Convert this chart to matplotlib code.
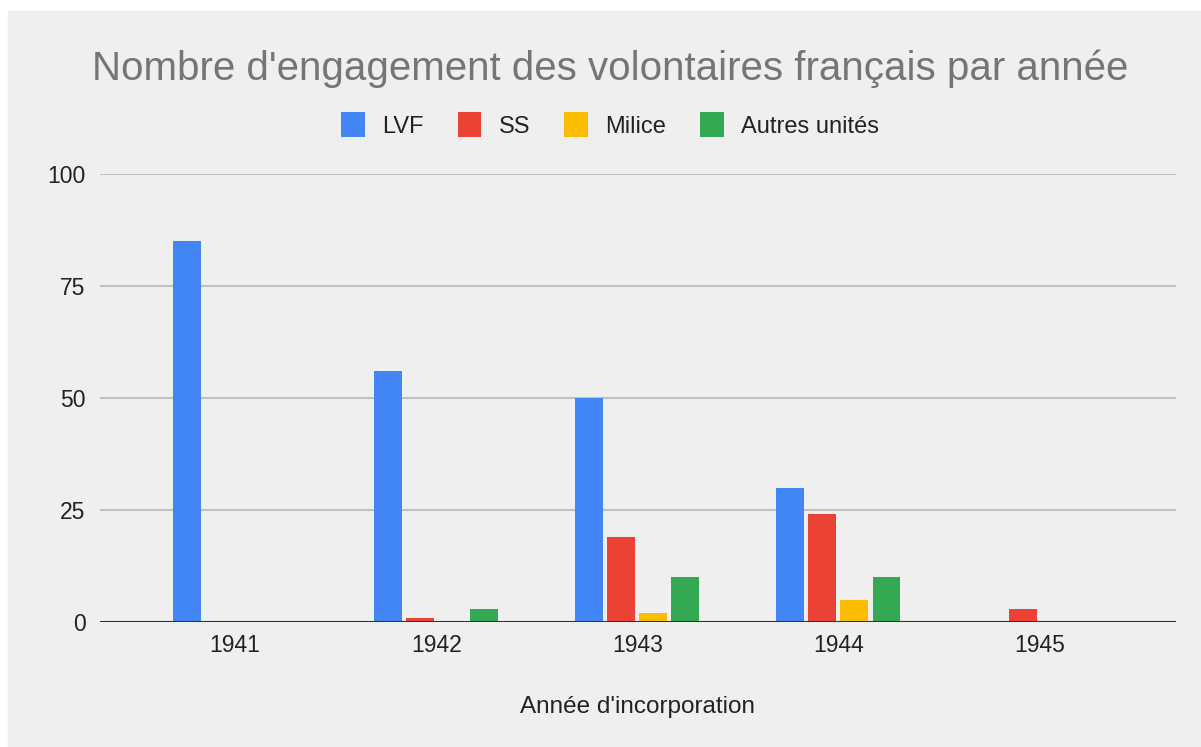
import matplotlib
matplotlib.use('Agg')
import matplotlib.pyplot as plt
from matplotlib.patches import Rectangle, Patch
import numpy as np

plt.rcParams['font.family'] = ['Liberation Sans', 'DejaVu Sans']

years = ['1941', '1942', '1943', '1944', '1945']
series = ['LVF', 'SS', 'Milice', 'Autres unités']
lvf = [85, 56, 50, 30, 0]
ss = [0, 1, 19, 24, 3]
milice = [0, 0, 2, 5, 0]
autres = [0, 3, 10, 10, 0]
colors = ['#4285F4', '#EA4335', '#FBBC04', '#34A853']

W, H = 1201, 747
fig = plt.figure(figsize=(W / 100, H / 100), dpi=100)
fig.patch.set_facecolor('white')
# grey card behind the chart
fig.add_artist(Rectangle((8 / W, 0), 1 - 8 / W, 1 - 11 / H,
                         transform=fig.transFigure, color='#efefef', zorder=-1))

ax = fig.add_axes([100 / W, 125 / H, 1076 / W, 448 / H])
ax.set_facecolor('none')

x = np.arange(len(years))
pitch, width = 0.16, 0.139
for i, (vals, c) in enumerate(zip([lvf, ss, milice, autres], colors)):
    ax.bar(x + (i - 1.5) * pitch, vals, width=width, color=c, zorder=3)

ax.set_xlim(-0.672, 4.68)
ax.set_ylim(0, 100)
ax.set_yticks([0, 25, 50, 75, 100])
ax.set_xticks(x)
ax.set_xticklabels(years)
ax.tick_params(axis='both', length=0, labelsize=16.5, labelcolor='#222222')
ax.tick_params(axis='y', pad=10.5)
ax.tick_params(axis='x', pad=9)
ax.grid(axis='y', color='#c0c0c0', linewidth=1.5, zorder=1)
for s in ax.spines.values():
    s.set_visible(False)
ax.axhline(0, color='#333333', linewidth=2.2, zorder=4)

fig.text(610 / W, 1 - 80 / H, "Nombre d'engagement des volontaires français par année",
         ha='center', va='baseline', fontsize=29, color='#757575')
fig.text(637 / W, 1 - 713 / H, "Année d'incorporation",
         ha='center', va='baseline', fontsize=17.5, color='#222222')

handles = [Patch(facecolor=c, edgecolor='none') for c in colors]
fig.legend(handles, series, loc='center', bbox_to_anchor=(610 / W, 1 - 125 / H),
           ncol=4, frameon=False, fontsize=17, handlelength=1.0, handleheight=1.25,
           handletextpad=0.72, columnspacing=1.45, labelcolor='#222222')

fig.savefig('out.png', dpi=100, facecolor=fig.get_facecolor())
